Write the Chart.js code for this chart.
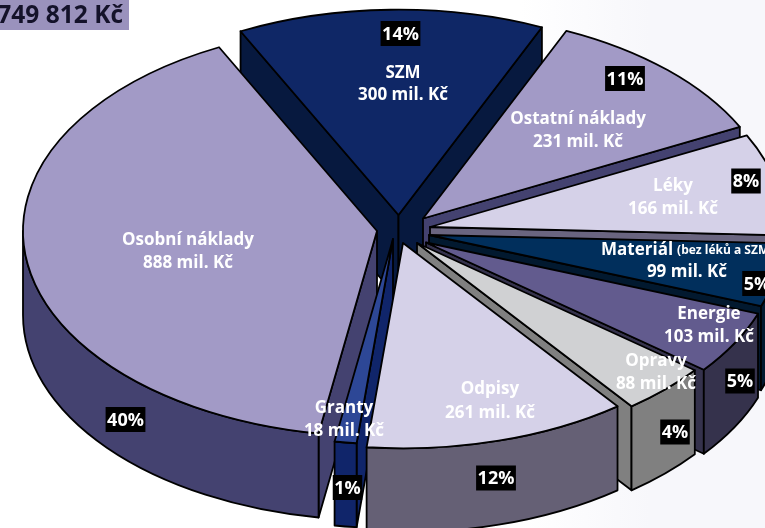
<!DOCTYPE html>
<html lang="cs">
<head>
<meta charset="utf-8">
<title>Náklady</title>
<style>
  html, body { margin: 0; padding: 0; }
  body { width: 765px; height: 528px; overflow: hidden; background: linear-gradient(to right, #fff 520px, #f7f7fb 650px); }
  #wrap { position: relative; width: 765px; height: 528px; }
</style>
<script src="https://cdn.jsdelivr.net/npm/chart.js@4"></script>
</head>
<body>
<div id="wrap"><canvas id="pie"></canvas></div>
<script>
  // slices clockwise, starting with SZM at the top
  const categories = ['SZM', 'Ostatní náklady', 'Léky', 'Materiál', 'Energie', 'Opravy', 'Odpisy', 'Granty', 'Osobní náklady'];
  const amounts = [300, 231, 166, 99, 103, 88, 261, 18, 888];
  const percents = [14, 11, 8, 5, 5, 4, 12, 1, 40];
  const totalLabel = '749 812 Kč';

  const topColors = ['#0f2766', '#a29ac6', '#d5d1e8', '#012f5c', '#625b8e', '#d0d1d3', '#d5d1e8', '#2d4796', '#a29ac6'];
  const wallColors = ['#07193f', '#444270', '#6a6580', '#02192f', '#35324c', '#808080', '#656075', '#10256a', '#444270'];

  // how far each slice is pulled out of the pie, screen px
  const explodeX = [-4.5, 20, 27, 26, 23, 14, 0, -10, -26];
  const explodeY = [-14, -10.5, -2, 6, 13.5, 14, 14, 10, 2];

  // back to front
  const drawOrder = [0, 1, 2, 3, 4, 5, 8, 7, 6];

  const CX = 403, CY = 229, RX = 354, TILT = 0.58, DEPTH = 84;
  const FONT = '"Open Sans", sans-serif';

  // label anchors on the picture: [x, y of first line, x, y of second line, x, y of percent box]
  const labelPos = [
    [403, 72, 403, 94, 400.5, 33.5],
    [578, 118, 578, 141, 625, 78.5],
    [673, 185, 673, 208, 746, 181],
    [687, 249, 687, 271, 757, 283.5],
    [709, 313, 709, 336, 740, 381],
    [656, 360, 656, 383, 675, 432],
    [490, 388, 490, 412, 496, 478],
    [344, 407, 344, 430, 347.5, 487.5],
    [188, 239, 188, 262, 125.5, 419.5],
  ];

  function paint(ctx, fill) {
    ctx.closePath();
    ctx.fillStyle = fill;
    ctx.fill();
    ctx.stroke();
  }

  function radialWall(ctx, tip, angle, fill) {
    const ex = tip.x + Math.cos(angle) * RX;
    const ey = tip.y + Math.sin(angle) * RX * TILT;
    ctx.beginPath();
    ctx.moveTo(tip.x, tip.y);
    ctx.lineTo(ex, ey);
    ctx.lineTo(ex, ey + DEPTH);
    ctx.lineTo(tip.x, tip.y + DEPTH);
    paint(ctx, fill);
  }

  function drawSlice(ctx, arc, i) {
    const tip = { x: CX + explodeX[i], y: CY + explodeY[i] };
    const a0 = arc.startAngle, a1 = arc.endAngle;
    const wall = wallColors[i];

    if (Math.cos(a0) < 0) radialWall(ctx, tip, a0, wall);
    if (Math.cos(a1) > 0) radialWall(ctx, tip, a1, wall);

    // outer rim, only the part facing the viewer
    const from = Math.max(a0, 0), to = Math.min(a1, Math.PI);
    if (to > from) {
      ctx.beginPath();
      ctx.ellipse(tip.x, tip.y, RX, RX * TILT, 0, from, to);
      ctx.ellipse(tip.x, tip.y + DEPTH, RX, RX * TILT, 0, to, from, true);
      paint(ctx, wall);
    }

    ctx.beginPath();
    ctx.moveTo(tip.x, tip.y);
    ctx.ellipse(tip.x, tip.y, RX, RX * TILT, 0, a0, a1);
    paint(ctx, arc.options.backgroundColor);
  }

  function drawLabels(ctx) {
    ctx.textBaseline = 'middle';
    categories.forEach(function (name, i) {
      const p = labelPos[i];
      ctx.fillStyle = '#fff';
      ctx.font = 'bold 17px ' + FONT;
      ctx.textAlign = 'center';
      if (name === 'Materiál') {
        ctx.textAlign = 'left';
        ctx.fillText(name, 601, p[1] + 1);
        const nameWidth = ctx.measureText(name).width;
        ctx.font = 'bold 12px ' + FONT;
        ctx.fillText('(bez léků a SZM)', 601 + nameWidth + 4, p[1] + 2);
        ctx.font = 'bold 17px ' + FONT;
        ctx.textAlign = 'center';
      } else {
        ctx.fillText(name, p[0], p[1] + 1);
      }
      ctx.fillText(amounts[i] + ' mil. Kč', p[2], p[3] + 1);

      const pct = percents[i] + '%';
      ctx.font = 'bold 18px ' + FONT;
      const w = ctx.measureText(pct).width + 3;
      ctx.fillStyle = '#000';
      ctx.fillRect(p[4] - w / 2, p[5] - 12.5, w, 25);
      ctx.fillStyle = '#fff';
      ctx.fillText(pct, p[4], p[5] + 1);
    });

    ctx.fillStyle = '#9a92bd';
    ctx.fillRect(0, 0, 129, 30);
    ctx.fillStyle = '#14122a';
    ctx.font = 'bold 24.5px ' + FONT;
    ctx.textAlign = 'right';
    ctx.fillText(totalLabel, 123, 16);
  }

  const pie3d = {
    id: 'pie3d',
    beforeDatasetDraw: function (chart) {
      const ctx = chart.ctx;
      const arcs = chart.getDatasetMeta(0).data;
      ctx.save();
      ctx.strokeStyle = '#000';
      ctx.lineWidth = 1.8;
      ctx.lineJoin = 'round';
      drawOrder.forEach(function (i) {
        drawSlice(ctx, arcs[i], i);
      });
      drawLabels(ctx);
      ctx.restore();
      return false; // the flat pie is replaced by the projected one
    },
  };

  new Chart(document.getElementById('pie'), {
    type: 'pie',
    data: {
      labels: categories,
      // the slice angles in the picture follow the rounded shares, not the amounts
      datasets: [{ data: percents, backgroundColor: topColors, borderWidth: 0 }],
    },
    options: {
      responsive: true,
      maintainAspectRatio: false,
      animation: false,
      rotation: -26.5,
      plugins: { legend: { display: false }, tooltip: { enabled: false } },
    },
    plugins: [pie3d],
  });
</script>
</body>
</html>
